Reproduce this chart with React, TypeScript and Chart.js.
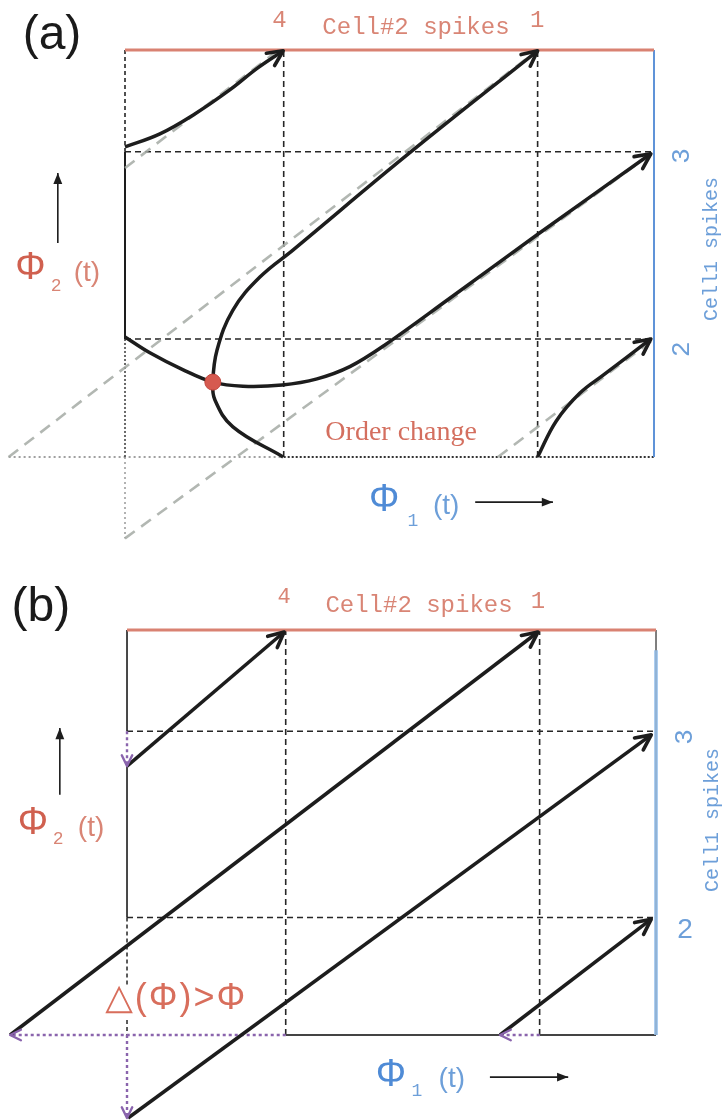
import { useEffect, useRef } from "react";
import { Chart, registerables } from "chart.js";

Chart.register(...registerables);

type Pt = [number, number];

// Phase-plane grid (phase of cell 1 on x, phase of cell 2 on y, fraction of one period)
const gridPhi1 = [0.3, 0.78];
const gridPhi2 = [0.29, 0.75];

// Spike-number tick labels
const cell2Ticks = ["4", "1"];
const cell1Ticks = ["2", "3"];

// (a) coupled trajectories, with the order change where two of them meet
const aTraj1: Pt[] = [[0, 0.762], [0.066, 0.794], [0.132, 0.843], [0.198, 0.902], [0.251, 0.956], [0.299, 0.998]];
const aTraj2: Pt[] = [[0.299, 0], [0.204, 0.074], [0.17, 0.14], [0.166, 0.184], [0.174, 0.263], [0.204, 0.361], [0.255, 0.442], [0.318, 0.509], [0.535, 0.744], [0.78, 0.998]];
const aTraj3: Pt[] = [[0, 0.295], [0.047, 0.256], [0.11, 0.214], [0.166, 0.184], [0.223, 0.174], [0.297, 0.177], [0.363, 0.192], [0.425, 0.222], [0.49, 0.274], [0.614, 0.39], [0.781, 0.548], [0.994, 0.745]];
const aTraj4: Pt[] = [[0.78, 0], [0.815, 0.088], [0.86, 0.157], [0.904, 0.201], [0.994, 0.29]];
const aOrderChange: Pt[] = [[0.166, 0.184]];

// (a) uncoupled reference paths
const aFree1: Pt[] = [[-0.22, 0], [0.78, 1]];
const aFree2: Pt[] = [[0, -0.2], [1, 0.75]];
const aFree3: Pt[] = [[0.705, 0], [1, 0.29]];
const aFree4: Pt[] = [[0, 0.71], [0.29, 1]];

// (b) trajectories
const bTraj1: Pt[] = [[0, 0.664], [0.297, 0.995]];
const bTraj2: Pt[] = [[-0.221, 0], [0.777, 0.995]];
const bTraj3: Pt[] = [[0.002, -0.205], [0.991, 0.741]];
const bTraj4: Pt[] = [[0.705, 0], [0.991, 0.286]];

// (b) phase jumps caused by the spikes
const bJump1: Pt[] = [[0.3, 0], [-0.221, 0]];
const bJump2: Pt[] = [[0, 0], [0, -0.205]];
const bJump3: Pt[] = [[0.78, 0], [0.705, 0]];
const bJump4: Pt[] = [[0, 0.75], [0, 0.664]];

const MONO = '"Liberation Mono", "DejaVu Sans Mono", monospace';
const SANS = '"Liberation Sans", Arial, "DejaVu Sans", sans-serif';
const SERIF = '"Liberation Serif", "Times New Roman", serif';

const INK = "#1d1d1d";
const GRID = "#262626";
const FREE = "rgba(165,170,165,0.85)";
const DOT = "rgba(150,150,150,0.9)";
const RED = "#d98272";
const BLUE = "#5f93d8";
const PURPLE = "#8a64ad";
const TXT_RED = "#d98575";
const TXT_BLUE = "#6d9fd9";

type Head = { size: number; width: number; fill?: boolean };
type Label = { text: string; x: number; y: number; font: string; color: string; rotate?: boolean; spacing?: string };

function seg(pts: Pt[], color: string, width: number, dash: number[] = [], order = 4, extra: any = {}) {
  return {
    data: pts.map(([x, y]) => ({ x, y })),
    showLine: true,
    borderColor: color,
    backgroundColor: color,
    borderWidth: width,
    borderDash: dash,
    borderCapStyle: "butt",
    pointRadius: 0,
    pointHoverRadius: 0,
    tension: 0,
    fill: false,
    order,
    ...extra,
  };
}

const curveHead: Head = { size: 17, width: 3.6 };
const jumpHead: Head = { size: 12, width: 2.4 };
const axisHead: Head = { size: 12, width: 1, fill: true };

function gridLines() {
  const out: any[] = [];
  gridPhi1.forEach((x) => out.push(seg([[x, 0], [x, 1]], GRID, 1.6, [6, 4], 5)));
  gridPhi2.forEach((y) => out.push(seg([[0, y], [1, y]], GRID, 1.6, [6, 4], 5)));
  return out;
}

function panelA() {
  const datasets = [
    seg([[0, 1], [1, 1]], RED, 3, [], 4),
    seg([[1, 0], [1, 1]], BLUE, 2, [], 4),
    seg([[0, 1], [0, 0.75]], GRID, 1.6, [4, 3], 5),
    seg([[0, 0.75], [0, 0.29]], INK, 2, [], 5),
    seg([[0, 0.29], [0, 0]], "#444", 1.6, [2, 2], 5),
    seg([[0, 0], [0, -0.2]], DOT, 1.6, [2, 3], 6),
    seg([[-0.22, 0], [0.3, 0]], DOT, 1.8, [2, 3], 6),
    seg([[0.3, 0], [1, 0]], "#333", 2, [2, 2], 5),
    ...gridLines(),
    seg(aFree1, FREE, 2.6, [12, 8], 3),
    seg(aFree2, FREE, 2.6, [12, 8], 3),
    seg(aFree3, FREE, 2.6, [12, 8], 3),
    seg(aFree4, FREE, 2.6, [12, 8], 3),
    seg(aTraj1, INK, 3.5, [], 1, { tension: 0.4, head: curveHead }),
    seg(aTraj2, INK, 3.5, [], 1, { tension: 0.4, head: curveHead }),
    seg(aTraj3, INK, 3.5, [], 1, { tension: 0.35, head: curveHead }),
    seg(aTraj4, INK, 3.5, [], 1, { tension: 0.4, head: curveHead }),
    {
      data: aOrderChange.map(([x, y]) => ({ x, y })),
      showLine: false,
      pointRadius: 8,
      pointHoverRadius: 8,
      pointBackgroundColor: "#d65a50",
      pointBorderColor: "#c2473f",
      pointBorderWidth: 1,
      order: 0,
    },
    seg([[-0.127, 0.526], [-0.127, 0.698]], INK, 1.6, [], 2, { head: axisHead }),
    seg([[0.662, -0.111], [0.809, -0.111]], INK, 1.6, [], 2, { head: axisHead }),
  ];
  const labels: Label[] = [
    { text: "(a)", x: -0.138, y: 1.034, font: `48px ${SANS}`, color: "#1a1a1a" },
    { text: cell2Ticks[0], x: 0.292, y: 1.071, font: `24px ${MONO}`, color: TXT_RED },
    { text: "Cell#2 spikes", x: 0.55, y: 1.056, font: `24px ${MONO}`, color: TXT_RED },
    { text: cell2Ticks[1], x: 0.779, y: 1.071, font: `24px ${MONO}`, color: TXT_RED },
    { text: cell1Ticks[1], x: 1.053, y: 0.74, font: `26px ${MONO}`, color: TXT_BLUE, rotate: true },
    { text: cell1Ticks[0], x: 1.053, y: 0.265, font: `26px ${MONO}`, color: TXT_BLUE, rotate: true },
    { text: "Cell1 spikes", x: 1.11, y: 0.511, font: `20px ${MONO}`, color: TXT_BLUE, rotate: true },
    { text: "\u03a6", x: -0.179, y: 0.464, font: `38px ${SANS}`, color: "#d0604f" },
    { text: "2", x: -0.13, y: 0.42, font: `18px ${MONO}`, color: TXT_RED },
    { text: "(t)", x: -0.072, y: 0.452, font: `28px ${SANS}`, color: TXT_RED },
    { text: "\u03a6", x: 0.49, y: -0.108, font: `38px ${SANS}`, color: "#4f8bd6" },
    { text: "1", x: 0.544, y: -0.157, font: `18px ${MONO}`, color: TXT_BLUE },
    { text: "(t)", x: 0.607, y: -0.12, font: `28px ${SANS}`, color: TXT_BLUE },
    { text: "Order change", x: 0.522, y: 0.061, font: `28px ${SERIF}`, color: "#d46f5f" },
  ];
  return { datasets, labels, x: [-0.2363, 1.138], y: [-0.2531, 1.1229] };
}

function panelB() {
  const datasets = [
    seg([[0, 1], [1, 1]], RED, 3, [], 4),
    seg([[1, 0], [1, 1]], "#3a3a3a", 1.3, [], 6),
    seg([[1, 0], [1, 0.95]], "rgba(150,192,236,0.8)", 4, [], 5),
    seg([[0, 1], [0, 0.75]], INK, 1.6, [], 5),
    seg([[0, 0.664], [0, 0.29]], INK, 1.6, [], 5),
    seg([[0, 0.29], [0, 0.123]], "#333", 1.6, [4, 3], 5),
    seg([[0, 0.037], [0, 0]], "#333", 1.6, [4, 3], 5),
    seg([[0.3, 0], [0.705, 0]], "#444", 2, [], 5),
    seg([[0.78, 0], [1, 0]], "#444", 2, [], 5),
    ...gridLines(),
    seg(bJump1, PURPLE, 2.4, [3, 3], 2, { head: jumpHead }),
    seg(bJump2, PURPLE, 2.4, [3, 3], 2, { head: jumpHead }),
    seg(bJump3, PURPLE, 2.4, [3, 3], 2, { head: jumpHead }),
    seg(bJump4, PURPLE, 2.4, [3, 3], 2, { head: jumpHead }),
    seg(bTraj1, INK, 3.5, [], 1, { head: curveHead }),
    seg(bTraj2, INK, 3.5, [], 1, { head: curveHead }),
    seg(bTraj3, INK, 3.5, [], 1, { head: curveHead }),
    seg(bTraj4, INK, 3.5, [], 1, { head: curveHead }),
    seg([[-0.127, 0.593], [-0.127, 0.758]], INK, 1.6, [], 2, { head: axisHead }),
    seg([[0.686, -0.104], [0.834, -0.104]], INK, 1.6, [], 2, { head: axisHead }),
  ];
  const labels: Label[] = [
    { text: "(b)", x: -0.163, y: 1.054, font: `48px ${SANS}`, color: "#1a1a1a" },
    { text: cell2Ticks[0], x: 0.297, y: 1.081, font: `22px ${MONO}`, color: TXT_RED },
    { text: "Cell#2 spikes", x: 0.552, y: 1.059, font: `24px ${MONO}`, color: TXT_RED },
    { text: cell2Ticks[1], x: 0.777, y: 1.069, font: `24px ${MONO}`, color: TXT_RED },
    { text: cell1Ticks[1], x: 1.055, y: 0.736, font: `26px ${MONO}`, color: TXT_BLUE, rotate: true },
    { text: cell1Ticks[0], x: 1.055, y: 0.259, font: `28px ${SANS}`, color: TXT_BLUE },
    { text: "Cell1 spikes", x: 1.108, y: 0.531, font: `20px ${MONO}`, color: TXT_BLUE, rotate: true },
    { text: "\u03a6", x: -0.178, y: 0.523, font: `38px ${SANS}`, color: "#d0604f" },
    { text: "2", x: -0.13, y: 0.483, font: `18px ${MONO}`, color: TXT_RED },
    { text: "(t)", x: -0.068, y: 0.511, font: `28px ${SANS}`, color: TXT_RED },
    { text: "\u03a6", x: 0.499, y: -0.099, font: `38px ${SANS}`, color: "#4f8bd6" },
    { text: "1", x: 0.548, y: -0.14, font: `18px ${MONO}`, color: TXT_BLUE },
    { text: "(t)", x: 0.614, y: -0.109, font: `28px ${SANS}`, color: TXT_BLUE },
    { text: "\u25b3(\u03a6)>\u03a6", x: 0.093, y: 0.089, font: `36px ${SANS}`, color: "#d86e5c", spacing: "2px" },
  ];
  return { datasets, labels, x: [-0.2401, 1.1342], y: [-0.2099, 1.1728] };
}

function drawHead(ctx: CanvasRenderingContext2D, x1: number, y1: number, x2: number, y2: number, head: Head, color: string) {
  const a = Math.atan2(y2 - y1, x2 - x1);
  const spread = head.fill ? 0.38 : 0.45;
  ctx.save();
  ctx.setLineDash([]);
  ctx.strokeStyle = color;
  ctx.fillStyle = color;
  ctx.lineWidth = head.width;
  ctx.lineCap = "round";
  ctx.lineJoin = "round";
  ctx.beginPath();
  ctx.moveTo(x2 - head.size * Math.cos(a - spread), y2 - head.size * Math.sin(a - spread));
  ctx.lineTo(x2, y2);
  ctx.lineTo(x2 - head.size * Math.cos(a + spread), y2 - head.size * Math.sin(a + spread));
  if (head.fill) {
    ctx.closePath();
    ctx.fill();
  } else {
    ctx.stroke();
  }
  ctx.restore();
}

function sketchPlugin(labels: Label[]) {
  return {
    id: "phaseSketch",
    afterDatasetsDraw(chart: any) {
      const { ctx } = chart;
      const xs = chart.scales.x;
      const ys = chart.scales.y;
      chart.data.datasets.forEach((ds: any) => {
        if (!ds.head) return;
        const n = ds.data.length;
        const p = ds.data[n - 2];
        const q = ds.data[n - 1];
        drawHead(ctx, xs.getPixelForValue(p.x), ys.getPixelForValue(p.y), xs.getPixelForValue(q.x), ys.getPixelForValue(q.y), ds.head, ds.borderColor);
      });
    },
    afterDraw(chart: any) {
      const { ctx } = chart;
      const xs = chart.scales.x;
      const ys = chart.scales.y;
      labels.forEach((l) => {
        ctx.save();
        ctx.font = l.font;
        ctx.fillStyle = l.color;
        ctx.textAlign = "center";
        ctx.textBaseline = "middle";
        if (l.spacing) (ctx as any).letterSpacing = l.spacing;
        ctx.translate(xs.getPixelForValue(l.x), ys.getPixelForValue(l.y));
        if (l.rotate) ctx.rotate(-Math.PI / 2);
        ctx.fillText(l.text, 0, 0);
        ctx.restore();
      });
    },
  };
}

function Panel({ build }: { build: () => any }) {
  const ref = useRef<HTMLCanvasElement>(null);
  useEffect(() => {
    const p = build();
    const chart = new Chart(ref.current as HTMLCanvasElement, {
      type: "scatter",
      data: { datasets: p.datasets },
      options: {
        responsive: false,
        animation: false,
        devicePixelRatio: 1,
        events: [],
        layout: { padding: 0, autoPadding: false },
        plugins: { legend: { display: false }, tooltip: { enabled: false } },
        scales: {
          x: { type: "linear", min: p.x[0], max: p.x[1], display: false },
          y: { type: "linear", min: p.y[0], max: p.y[1], display: false },
        },
      } as any,
      plugins: [sketchPlugin(p.labels)],
    });
    return () => chart.destroy();
  }, [build]);
  return <canvas ref={ref} width={727} height={560} style={{ display: "block", width: 727, height: 560 }} />;
}

export default function App() {
  return (
    <div style={{ position: "absolute", left: 0, top: 0, width: 727, height: 1120, background: "#fff" }}>
      <Panel build={panelA} />
      <Panel build={panelB} />
    </div>
  );
}
